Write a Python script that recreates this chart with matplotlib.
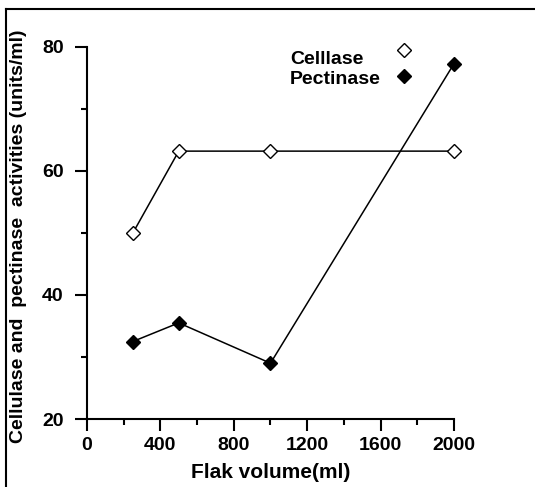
import matplotlib
matplotlib.use('Agg')
import matplotlib.pyplot as plt
from matplotlib.lines import Line2D
from matplotlib.ticker import MultipleLocator

plt.rcParams['font.family'] = ['Liberation Sans', 'DejaVu Sans']
plt.rcParams['font.weight'] = 'bold'

volume = [250, 500, 1000, 2000]
cellulase = [50, 63.2, 63.2, 63.2]
pectinase = [32.5, 35.5, 29, 77.3]
series_names = ['Celllase', 'Pectinase']

fig = plt.figure(figsize=(5.35, 4.87), dpi=100)
ax = fig.add_axes([0.1626, 0.1396, 0.686, 0.764])

l1, = ax.plot(volume, cellulase, color='black', lw=1.1, marker='D', ms=7.5,
              mfc='white', mec='black', mew=1.0, clip_on=False)
l2, = ax.plot(volume, pectinase, color='black', lw=1.1, marker='D', ms=7.5,
              mfc='black', mec='black', clip_on=False)

ax.set_xlim(0, 2000)
ax.set_ylim(20, 80)
ax.xaxis.set_major_locator(MultipleLocator(400))
ax.xaxis.set_minor_locator(MultipleLocator(200))
ax.yaxis.set_major_locator(MultipleLocator(20))
ax.yaxis.set_minor_locator(MultipleLocator(10))

for s in ['top', 'right']:
    ax.spines[s].set_visible(False)
for s in ['left', 'bottom']:
    ax.spines[s].set_linewidth(1.5)

ax.tick_params(which='major', direction='out', length=8.3, width=1.5,
               labelsize=14)
ax.tick_params(which='minor', direction='out', length=4, width=1.5)
ax.tick_params(axis='x', which='major', pad=5)
ax.tick_params(axis='y', which='major', pad=8.5)
for t in ax.get_xticklabels() + ax.get_yticklabels():
    t.set_fontweight('bold')

ax.set_xlabel('Flak volume(ml)', fontsize=15, fontweight='bold')
ax.set_ylabel('Cellulase and  pectinase  activities (units/ml)',
              fontsize=14, fontweight='bold')
ax.xaxis.set_label_coords(0.5, -0.118)
ax.yaxis.set_label_coords(-0.163, 0.49)

# legend: markers in a column on the right, names left-aligned beside them
leg = ax.legend(handles=[l1, l2], labels=['', ''], loc='center',
                bbox_to_anchor=(0.865, 0.952), frameon=False,
                handlelength=1.0, handletextpad=0, labelspacing=0.4,
                fontsize=14)
for h in leg.legend_handles:
    h.set_linestyle('none')
ax.text(0.553, 0.954, series_names[0], transform=ax.transAxes,
        fontsize=14, fontweight='bold', va='baseline', ha='left')
ax.text(0.553, 0.9005, series_names[1], transform=ax.transAxes,
        fontsize=14, fontweight='bold', va='baseline', ha='left')

# outer frame (top and left edges of the original panel)
fig.add_artist(Line2D([0.011, 0.011], [0, 0.982], transform=fig.transFigure,
                      color='black', lw=1.5))
fig.add_artist(Line2D([0.011, 1.0], [0.982, 0.982], transform=fig.transFigure,
                      color='black', lw=1.5))

fig.savefig('out.png', dpi=100)
